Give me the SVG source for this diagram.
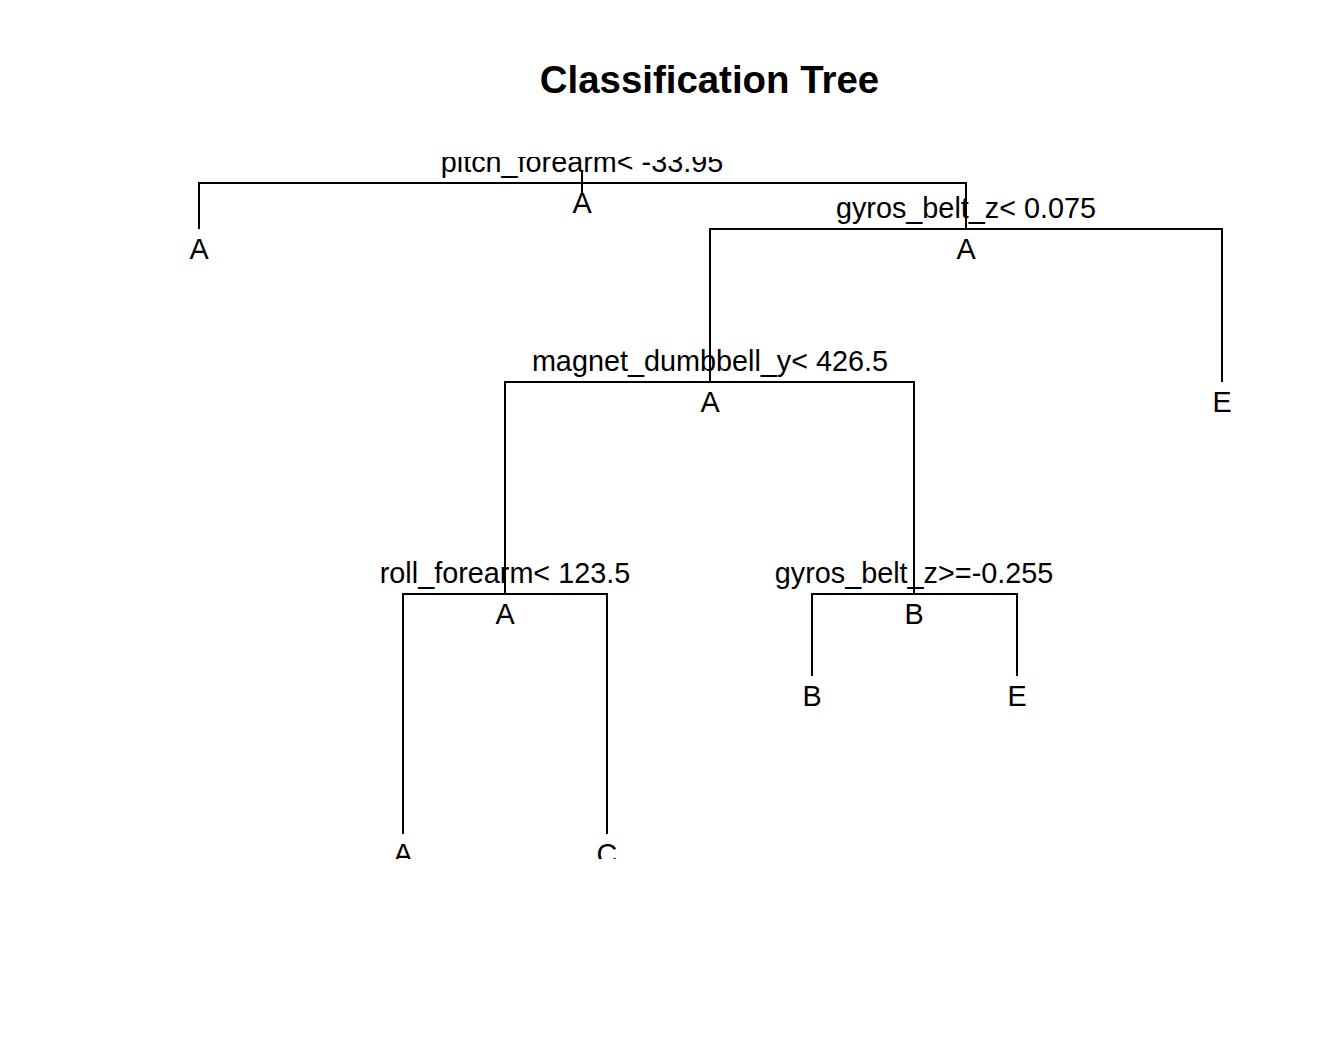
<svg xmlns="http://www.w3.org/2000/svg" width="1344" height="1056" viewBox="0 0 1344 1056">
<style>
.t{font-family:"Liberation Sans",Arial,sans-serif;font-size:28.8px;fill:#000;text-anchor:middle}
.title{font-family:"Liberation Sans",Arial,sans-serif;font-size:38.4px;font-weight:bold;fill:#000;text-anchor:middle}
.e{fill:none;stroke:#000;stroke-width:2;stroke-linecap:butt}
</style>
<defs>
<clipPath id="plot"><rect x="0" y="157" width="1344" height="702"/></clipPath>
</defs>
<rect width="1344" height="1056" fill="#fff"/>
<text class="title" x="709.5" y="92.5">Classification Tree</text>
<g clip-path="url(#plot)">
<g id="connectors">
<path class="e" d="M582 172V195"/>
<path class="e" d="M199 229V183H966V229"/>
<path class="e" d="M710 382V229H1222V382"/>
<path class="e" d="M505 594V382H914V594"/>
<path class="e" d="M403 834V594H607V834"/>
<path class="e" d="M812 676V594H1017V676"/>
</g>
<g id="n1"><text class="t" x="582" y="172">pitch_forearm&lt; -33.95</text><text class="t" x="582" y="212.5">A</text></g>
<g id="n2"><text class="t" x="199" y="258.5">A</text></g>
<g id="n3"><text class="t" x="966" y="218">gyros_belt_z&lt; 0.075</text><text class="t" x="966" y="258.5">A</text></g>
<g id="n6"><text class="t" x="710" y="371">magnet_dumbbell_y&lt; 426.5</text><text class="t" x="710" y="411.5">A</text></g>
<g id="n7"><text class="t" x="1222" y="411.5">E</text></g>
<g id="n12"><text class="t" x="505" y="583">roll_forearm&lt; 123.5</text><text class="t" x="505" y="623.5">A</text></g>
<g id="n13"><text class="t" x="914" y="583">gyros_belt_z&gt;=-0.255</text><text class="t" x="914" y="623.5">B</text></g>
<g id="n24"><text class="t" x="403" y="863.5">A</text></g>
<g id="n25"><text class="t" x="607" y="863.5">C</text></g>
<g id="n26"><text class="t" x="812" y="705.5">B</text></g>
<g id="n27"><text class="t" x="1017" y="705.5">E</text></g>
</g>
</svg>
